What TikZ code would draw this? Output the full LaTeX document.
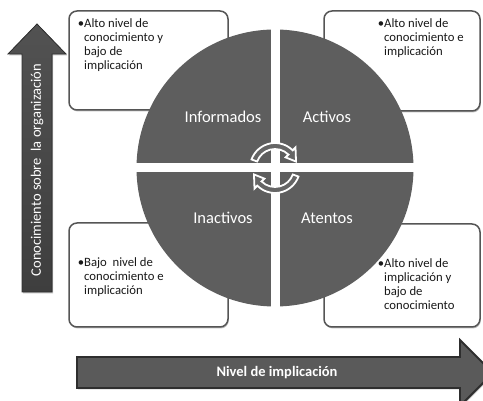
\documentclass[tikz,border=0pt]{standalone}
\usepackage{fontspec}
\setmainfont{Carlito}
\usetikzlibrary{shadows}
\definecolor{quad}{HTML}{5E5E5E}
\definecolor{cyc}{HTML}{666666}
\definecolor{boxline}{HTML}{555555}
\definecolor{varrowtop}{HTML}{525252}
\definecolor{varrowbot}{HTML}{3E3E3E}
\definecolor{harrowfill}{HTML}{5A5A5A}
\definecolor{arrowline}{HTML}{2E2E2E}
\newcommand\boxfont{\fontsize{12.7}{14}\selectfont}
\tikzset{
  infobox/.style={draw=boxline, line width=1.5pt, rounded corners=8pt, fill=white, inner sep=0pt,
    drop shadow={shadow xshift=0.8pt, shadow yshift=-1.5pt, opacity=0.25, fill=black}},
  boxtext/.style={inner sep=0pt, font=\boxfont, text=black!90, anchor=base west},
  quadlabel/.style={inner sep=0pt, font=\fontsize{16.5}{18}\selectfont, text=white},
  cycarrow/.style={fill=cyc, draw=white, line width=1.8pt, line join=miter},
  varrow/.style={top color=varrowtop, bottom color=varrowbot, draw=arrowline, line width=0.8pt,
    drop shadow={shadow xshift=1pt, shadow yshift=-1.5pt, opacity=0.25, fill=black}},
  harrow/.style={fill=harrowfill, draw=arrowline, line width=1.8pt,
    drop shadow={shadow xshift=1pt, shadow yshift=-1.5pt, opacity=0.25, fill=black}},
  arrowlabel/.style={inner sep=0pt, text=white, font=\bfseries\fontsize{14.5}{16}\selectfont}
}
\begin{document}
\begin{tikzpicture}[x=1pt,y=-1pt]
\useasboundingbox (0,0) rectangle (483,401);
\clip (0,0) rectangle (483,401);

% info boxes
\node[infobox, minimum width=159pt, minimum height=99pt] (boxtl) at (148.5,60.5) {};
\node[infobox, minimum width=156pt, minimum height=100pt] (boxtr) at (402,61) {};
\node[infobox, minimum width=159pt, minimum height=104pt] (boxbl) at (148.5,275) {};
\node[infobox, minimum width=156pt, minimum height=103pt] (boxbr) at (402,275.5) {};

\node[boxtext] (ttl) at (84,27.5) {\begin{tabular}[t]{@{}l@{}}\llap{•}Alto nivel de\\conocimiento y\\bajo de\\implicación\end{tabular}};
\node[boxtext] (ttr) at (384,27.5) {\begin{tabular}[t]{@{}l@{}}\llap{•}Alto nivel de\\conocimiento e\\implicación\end{tabular}};
\node[boxtext] (tbl) at (84,266.5) {\begin{tabular}[t]{@{}l@{}}\llap{•}Bajo~ nivel de\\conocimiento e\\implicación\end{tabular}};
\node[boxtext] (tbr) at (384,267.5) {\begin{tabular}[t]{@{}l@{}}\llap{•}Alto nivel de\\implicación y\\bajo de\\conocimiento\end{tabular}};

% quadrants
\begin{scope}
\clip (275,168) circle (138.5pt);
\fill[quad] (130,20) rectangle (270.5,163.5);
\fill[quad] (279.5,20) rectangle (420,163.5);
\fill[quad] (130,172.5) rectangle (270.5,316);
\fill[quad] (279.5,172.5) rectangle (420,316);
\end{scope}

% cycle arrows (polar coordinates with units are in canvas space: y up)
\begin{scope}[shift={(275,168)}]
\foreach \r in {0,180}{
  \begin{scope}[rotate=\r]
  \filldraw[cycarrow] (160:25pt) arc[start angle=160, end angle=45, radius=25pt]
     -- (45:29pt) -- (17:22pt) -- (45:15pt) -- (45:19pt)
     arc[start angle=45, end angle=160, radius=19pt] -- cycle;
  \end{scope}
}
\end{scope}

\node[quadlabel] (inf) at (223,117) {Informados};
\node[quadlabel] (act) at (327,117) {Activos};
\node[quadlabel] (ina) at (223,218) {Inactivos};
\node[quadlabel] (ate) at (327,218) {Atentos};

% vertical arrow
\filldraw[varrow] (22,292) -- (22,54) -- (8,54) -- (37,24) -- (66,54) -- (52,54) -- (52,292) -- cycle;
\node[inner sep=0pt, rotate=90, text=white, font=\fontsize{14.5}{16}\selectfont] (vlab) at (37,170) {Conocimiento sobre~ la organización};

% horizontal arrow
\filldraw[harrow] (77,357) -- (460,357) -- (460,340) -- (493,373) -- (460,406) -- (460,388) -- (77,388) -- cycle;
\node[arrowlabel] (hlab) at (277,373) {Nivel de implicación};
\end{tikzpicture}
\end{document}
